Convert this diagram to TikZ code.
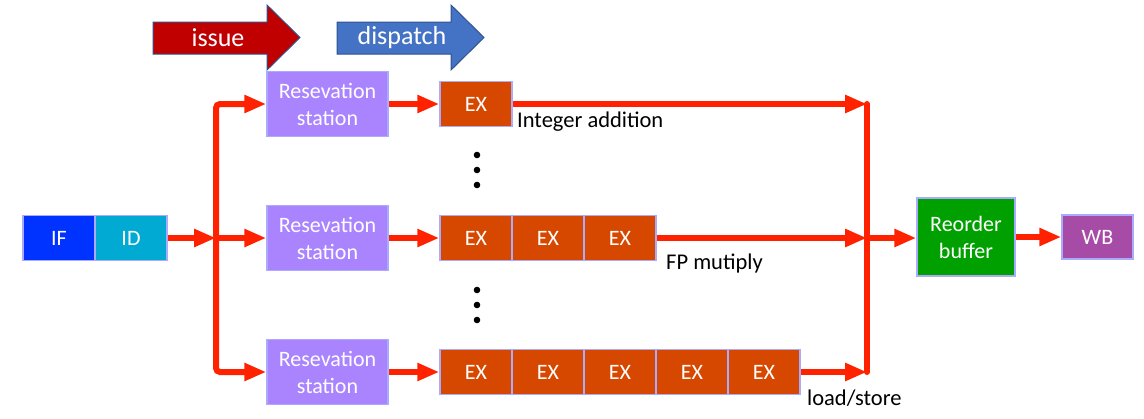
\documentclass[tikz,border=0pt]{standalone}
\usepackage{fontspec}
\setmainfont{Carlito}
\usepackage{tikz}
\usetikzlibrary{arrows.meta, calc}
\definecolor{flowred}{RGB}{255,34,0}
\definecolor{edgeline}{RGB}{170,170,255}
\definecolor{arrowline}{RGB}{47,82,143}
\definecolor{ifblue}{RGB}{0,51,255}
\definecolor{idcyan}{RGB}{0,170,210}
\definecolor{rslilac}{RGB}{170,132,255}
\definecolor{exorange}{RGB}{214,72,0}
\definecolor{robgreen}{RGB}{0,160,0}
\definecolor{wbpurple}{RGB}{166,76,166}
\definecolor{issuered}{RGB}{192,0,0}
\definecolor{dispblue}{RGB}{68,114,196}
\newcommand{\stagearrow}[4]{
	\pgfmathsetmacro{\headx}{#1 + 114} % beginning of the head
	\pgfmathsetmacro{\tipx}{#1 + 147} % tip of the head
	
	\filldraw[fill=#2, draw=arrowline, line width=1pt] (#1,22) -- (\headx,22) -- (\headx,5) -- (\tipx,37.5) -- (\headx,70) -- (\headx,54) -- (#1,54) -- cycle;
	\node[stage] (#4) at (#1+65,38) {#3};
}

\begin{document}
\begin{tikzpicture}[x=1pt,y=-1pt,
	box/.style={draw=edgeline, line width=1.5pt, text=white, inner sep=0pt, font=\fontsize{22}{27}\selectfont, align=center},
	rsbox/.style={box, fill=rslilac, minimum width=121pt, minimum height=65pt},
	exbox/.style={box, fill=exorange, minimum width=72pt, minimum height=45pt},
	stage/.style={text=white, inner sep=0pt, font=\fontsize{26}{30}\selectfont},
	lbl/.style={inner sep=0pt, font=\fontsize{22.5}{26}\selectfont},
	line/.style={flowred, line width=6pt},
	flow/.style={line, -{Triangle[length=22pt,width=17pt]}}]
	\useasboundingbox (0,0) rectangle (1144,418);
	
	% stages on top
	\stagearrow{153}{issuered}{issue}{issue}
	\stagearrow{337}{dispblue}{dispatch}{dispatch}
	
	% front end
	\node[box, fill=ifblue, minimum width=72pt, minimum height=45pt] (if) at (59,238) {IF};
	\node[box, fill=idcyan, minimum width=72pt, minimum height=45pt] (id) at (131,238) {ID};
	\coordinate (split) at (216,238);
	\coordinate (merge) at (867,238);
	
	% reservation stations
	\foreach[count=\r] \y in {104,238,372}
	\node[rsbox] (rs\r) at (327.5,\y) {Resevation\\station};
	
	% execution units
	\node[exbox] (int1) at (476,104) {EX};
	\foreach \n in {1,...,3}
	\node[exbox] (fp\n) at (404+72*\n,238) {EX};
	\foreach \n in {1,...,5}
	\node[exbox] (ls\n) at (404+72*\n,372) {EX};
	\foreach \y in {155,170,185,290,305,320}
	\fill (477,\y) circle (3.3);
	
	\node[lbl, anchor=west] (intlbl) at (517,122) {Integer addition};
	\node[lbl, anchor=west] (fplbl) at (666,263) {FP mutiply};
	\node[lbl, anchor=west] (lslbl) at (807,398) {load/store};
	
	% back end
	\node[box, fill=robgreen, minimum width=98pt, minimum height=78pt] (rob) at (966,237) {Reorder\\buffer};
	\node[box, fill=wbpurple, minimum width=71pt, minimum height=44pt] (wb) at (1097.5,237) {WB};
	
	% connect everything
	\draw[flow] (id) -- (split);
	\draw[flow, rounded corners=4pt] (split) |- (rs1);
	\draw[flow] (split) -- (rs2);
	\draw[flow, rounded corners=4pt] (split) |- (rs3);
	\draw[flow] (rs1) -- (int1);
	\draw[flow] (rs2) -- (fp1);
	\draw[flow] (rs3) -- (ls1);
	\draw[flow] (int1) -- (int1 -| merge);
	\draw[flow] (fp3) -- (merge);
	\draw[flow] (ls5) -- (ls5 -| merge);
	\draw[line, line cap=round] (merge |- int1) -- (merge |- ls5);
	\draw[flow] (merge) -- (merge -| rob.west);
	\draw[flow] (rob) -- (wb);
\end{tikzpicture}
\end{document}
